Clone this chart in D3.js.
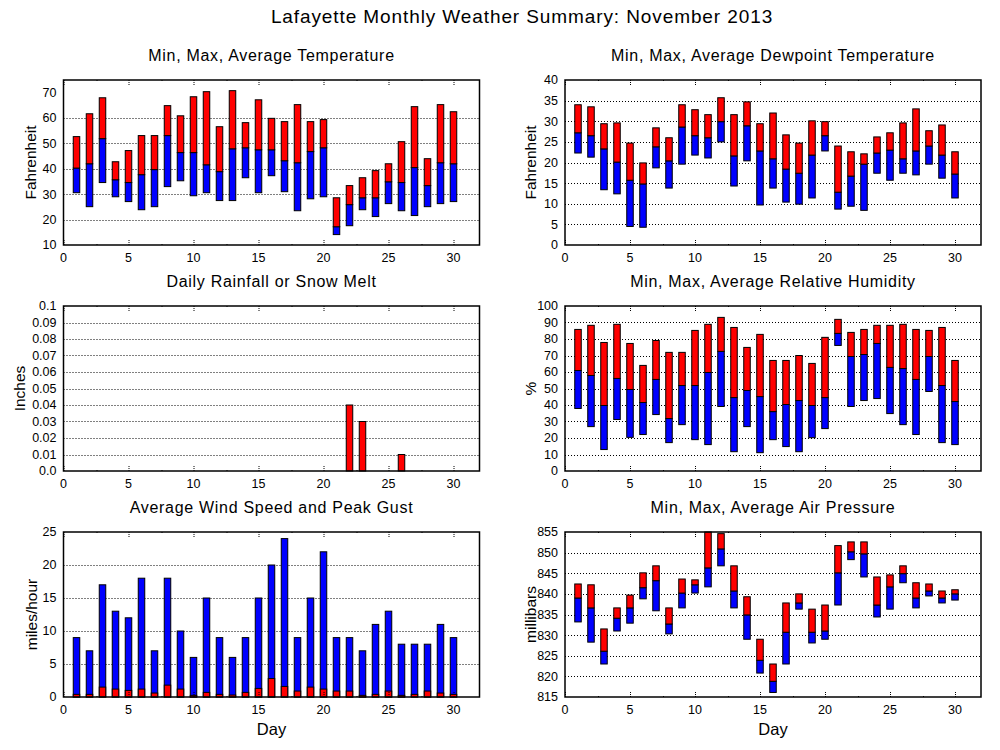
<!DOCTYPE html>
<html>
<head>
<meta charset="utf-8">
<script src="https://cdn.jsdelivr.net/npm/d3@7"></script>
<style>
  body { margin: 0; background: #fff; }
  text { font-family: "Liberation Sans", Arial, sans-serif; fill: #000; }
</style>
</head>
<body>
<script>
var days = [1,2,3,4,5,6,7,8,9,10,11,12,13,14,15,16,17,18,19,20,21,22,23,24,25,26,27,28,29,30];

var tempMax = [52.7,61.7,68.0,42.8,47.2,53.1,53.1,64.9,60.9,68.4,70.4,56.6,70.8,58.2,67.2,59.9,58.6,65.3,58.6,59.4,28.6,33.4,36.5,39.3,42.0,50.7,64.5,44.0,65.3,62.5];
var tempAvg = [40.3,42.0,51.9,35.7,34.6,37.7,39.7,53.1,46.4,46.4,41.6,38.9,47.9,48.3,47.5,47.5,43.2,42.4,46.8,48.3,17.2,25.9,28.6,28.6,34.9,34.6,40.5,33.4,42.4,42.0];
var tempMin = [30.6,25.1,34.6,29.0,27.1,23.9,25.1,33.0,35.3,29.4,30.6,27.5,27.5,36.5,30.6,37.3,31.0,23.5,28.2,29.0,14.1,17.6,23.9,21.2,26.3,23.5,21.6,25.1,26.3,27.1];

var dewMax = [34.0,33.5,29.4,29.6,24.7,19.9,28.4,26.0,34.0,32.8,31.6,35.7,31.6,34.7,29.4,32.0,26.7,24.7,30.1,29.9,24.0,22.6,22.1,26.2,27.2,29.6,33.0,27.7,29.1,22.6];
var dewAvg = [27.2,26.5,23.3,20.1,15.7,14.8,23.8,20.4,28.6,26.5,26.0,29.9,21.6,28.9,22.8,20.9,18.4,17.4,21.8,26.5,12.8,16.7,19.6,22.3,23.0,20.9,22.8,24.0,21.8,17.2];
var dewMin = [22.3,21.3,13.4,12.4,4.5,4.3,18.7,13.8,19.6,21.8,21.1,25.0,14.3,20.4,9.7,13.8,10.4,9.9,11.4,22.8,8.7,9.4,8.4,17.4,15.7,17.4,17.0,19.6,16.2,11.4];

var rain = [0,0,0,0,0,0,0,0,0,0,0,0,0,0,0,0,0,0,0,0,0,0.04,0.03,0,0,0.01,0,0,0,0];

var rhMax = [85.8,88.3,77.9,88.9,77.3,64.0,79.1,71.9,71.9,85.2,88.9,93.1,87.0,74.9,82.8,67.0,67.0,70.0,65.2,81.0,91.9,84.0,85.8,88.3,88.3,88.9,85.8,85.2,87.0,67.0];
var rhAvg = [60.9,57.9,39.7,56.1,49.4,41.5,55.5,31.8,51.8,51.8,59.7,72.5,44.5,48.8,45.1,36.0,40.3,42.7,39.7,44.5,83.4,69.4,70.6,77.3,62.8,62.1,55.5,69.4,51.8,42.1];
var rhMin = [37.9,26.9,13.0,31.2,20.4,22.1,34.2,17.2,28.1,19.0,16.0,39.1,11.7,26.9,11.1,19.0,14.8,11.7,20.2,25.7,76.1,39.1,42.7,43.9,34.8,28.1,22.1,48.2,17.2,16.0];

var windAvg = [0.4,0.4,1.5,1.2,1.0,1.2,0.6,1.8,1.2,0.25,0.7,0.4,0.3,0.7,1.3,2.8,1.6,0.9,1.5,1.2,0.9,0.9,0.25,0.4,0.9,0.25,0.4,0.9,0.6,0.4];
var windGust = [9,7,17,13,12,18,7,18,10,6,15,9,6,9,15,20,24,9,15,22,9,9,7,11,13,8,8,8,11,9];

var presMax = [842.4,842.2,831.5,836.6,839.7,845.1,846.8,836.6,843.6,843.4,855.0,854.6,846.8,839.3,829.0,823.0,837.8,840.0,836.3,837.3,851.7,852.6,852.6,844.1,844.6,846.8,842.7,842.4,840.7,841.0];
var presAvg = [839.0,836.6,826.1,834.1,836.6,841.5,843.2,832.7,840.2,842.2,846.3,850.9,840.7,834.9,823.9,818.8,830.7,837.8,830.7,831.0,845.1,850.2,849.7,837.3,841.7,844.9,839.0,840.7,839.0,840.0];
var presMin = [833.2,828.3,823.0,831.0,832.9,838.8,835.9,830.3,836.6,840.2,841.7,846.8,836.6,829.0,820.8,816.1,823.0,836.3,828.1,829.0,837.3,848.3,844.1,834.4,836.3,842.7,836.6,839.5,837.8,838.5];

var xTicks = [0,5,10,15,20,25,30];
var xMinorTicks = [2.5,7.5,12.5,17.5,22.5,27.5];

var svg = d3.select("body").append("svg")
    .attr("width", 1000)
    .attr("height", 750);

svg.append("text")
    .attr("x", 522)
    .attr("y", 23)
    .attr("text-anchor", "middle")
    .style("font-size", "19px")
    .style("letter-spacing", "0.9px")
    .text("Lafayette Monthly Weather Summary: November 2013");

var colX = [63.5, 565];
var rowY = [80, 306, 532];
var W = 416, H = 165;

function panel(col, row, title, ylabel, yDomain, yTicks, yFmt, labelX) {
    var g = svg.append("g")
        .attr("transform", "translate(" + colX[col] + "," + rowY[row] + ")");
    var x = d3.scaleLinear().domain([0, 32]).range([0, W]);
    var y = d3.scaleLinear().domain(yDomain).range([H, 0]);

    g.append("text")
        .attr("x", W / 2)
        .attr("y", -19)
        .attr("text-anchor", "middle")
        .style("font-size", "16px")
        .style("letter-spacing", "0.7px")
        .text(title);

    // dotted grid
    g.append("g").selectAll("line")
        .data(yTicks.slice(1, -1).filter(function (d) { return y(d) > 0.5 && y(d) < H - 0.5; }))
        .enter()
            .append("line")
            .attr("x1", 0).attr("x2", W)
            .attr("y1", function (d) { return Math.round(y(d)) + 0.5; })
            .attr("y2", function (d) { return Math.round(y(d)) + 0.5; })
            .attr("stroke", "#000")
            .attr("stroke-width", 1)
            .style("stroke-dasharray", "1,2");

    // y tick labels
    g.append("g").selectAll("text")
        .data(yTicks)
        .enter()
            .append("text")
            .attr("x", -7)
            .attr("y", function (d) { return y(d); })
            .attr("dy", "0.35em")
            .attr("text-anchor", "end")
            .style("font-size", "12.5px")
            .text(yFmt);

    // x tick labels
    g.append("g").selectAll("text")
        .data(xTicks)
        .enter()
            .append("text")
            .attr("x", function (d) { return x(d); })
            .attr("y", H + 17)
            .attr("text-anchor", "middle")
            .style("font-size", "12.5px")
            .text(function (d) { return d; });

    g.append("text")
        .attr("transform", "translate(" + (labelX - colX[col]) + "," + (H / 2) + ") rotate(-90)")
        .attr("text-anchor", "middle")
        .attr("dy", "0.35em")
        .style("font-size", "15.5px")
        .text(ylabel);

    if (row === 2) {
        g.append("text")
            .attr("x", W / 2)
            .attr("y", H + 38)
            .attr("text-anchor", "middle")
            .style("font-size", "16.5px")
            .text("Day");
    }

    var bars = g.append("g");

    var frame = function () {
        var t = g.append("g");
        var tk = [];
        xTicks.forEach(function (d) { tk.push({v: d, len: 6}); });
        xMinorTicks.forEach(function (d) { tk.push({v: d, len: 2}); });
        t.selectAll("line.b")
            .data(tk)
            .enter()
                .append("line")
                .attr("x1", function (d) { return Math.round(x(d.v)) + 0.5; })
                .attr("x2", function (d) { return Math.round(x(d.v)) + 0.5; })
                .attr("y1", H)
                .attr("y2", function (d) { return H - d.len; })
                .attr("stroke", "#000")
                .style("stroke-dasharray", "1,1");
        t.selectAll("line.t")
            .data(tk)
            .enter()
                .append("line")
                .attr("x1", function (d) { return Math.round(x(d.v)) + 0.5; })
                .attr("x2", function (d) { return Math.round(x(d.v)) + 0.5; })
                .attr("y1", 0)
                .attr("y2", function (d) { return d.len; })
                .attr("stroke", "#000")
                .style("stroke-dasharray", "1,1");
        t.append("rect")
            .attr("x", 0).attr("y", 0)
            .attr("width", W).attr("height", H)
            .attr("fill", "none")
            .attr("stroke", "#000")
            .attr("stroke-width", 1.5);
    };

    return {g: bars, x: x, y: y, frame: frame};
}

function rangeBars(p, mins, avgs, maxs) {
    var bw = p.x(0.5) - p.x(0);
    p.g.selectAll("rect.lo")
        .data(days)
        .enter()
            .append("rect")
            .attr("x", function (d) { return p.x(d) - bw / 2; })
            .attr("y", function (d, i) { return p.y(avgs[i]); })
            .attr("width", bw)
            .attr("height", function (d, i) { return p.y(mins[i]) - p.y(avgs[i]); })
            .attr("fill", "#0000ff")
            .attr("stroke", "#000")
            .attr("stroke-width", 1);
    p.g.selectAll("rect.hi")
        .data(days)
        .enter()
            .append("rect")
            .attr("x", function (d) { return p.x(d) - bw / 2; })
            .attr("y", function (d, i) { return p.y(maxs[i]); })
            .attr("width", bw)
            .attr("height", function (d, i) { return p.y(avgs[i]) - p.y(maxs[i]); })
            .attr("fill", "#ff0000")
            .attr("stroke", "#000")
            .attr("stroke-width", 1);
}

function simpleBars(p, vals, color) {
    var bw = p.x(0.5) - p.x(0);
    p.g.append("g").selectAll("rect")
        .data(days)
        .enter()
            .append("rect")
            .attr("x", function (d) { return p.x(d) - bw / 2; })
            .attr("y", function (d, i) { return p.y(vals[i]); })
            .attr("width", bw)
            .attr("height", function (d, i) { return p.y(p.y.domain()[0]) - p.y(vals[i]); })
            .attr("fill", color)
            .attr("stroke", function (d, i) { return vals[i] > 0 ? "#000" : "none"; })
            .attr("stroke-width", 1);
}

var fmtInt = function (d) { return d; };

var p1 = panel(0, 0, "Min, Max, Average Temperature", "Fahrenheit", [10, 75], [10,20,30,40,50,60,70], fmtInt, 31);
rangeBars(p1, tempMin, tempAvg, tempMax);
p1.frame();

var p2 = panel(1, 0, "Min, Max, Average Dewpoint Temperature", "Fahrenheit", [0, 40], [0,5,10,15,20,25,30,35,40], fmtInt, 531);
rangeBars(p2, dewMin, dewAvg, dewMax);
p2.frame();

var p3 = panel(0, 1, "Daily Rainfall or Snow Melt", "Inches", [0, 0.1], [0,0.01,0.02,0.03,0.04,0.05,0.06,0.07,0.08,0.09,0.1],
    function (d) { return d === 0 ? "0.0" : String(d); }, 20);
simpleBars(p3, rain, "#ff0000");
p3.frame();

var p4 = panel(1, 1, "Min, Max, Average Relative Humidity", "%", [0, 100], [0,10,20,30,40,50,60,70,80,90,100], fmtInt, 531);
rangeBars(p4, rhMin, rhAvg, rhMax);
p4.frame();

var p5 = panel(0, 2, "Average Wind Speed and Peak Gust", "miles/hour", [0, 25], [0,5,10,15,20,25], fmtInt, 32);
simpleBars(p5, windGust, "#0000ff");
simpleBars(p5, windAvg, "#ff0000");
p5.frame();

var p6 = panel(1, 2, "Min, Max, Average Air Pressure", "millibars", [815, 855], [815,820,825,830,835,840,845,850,855], fmtInt, 531);
rangeBars(p6, presMin, presAvg, presMax);
p6.frame();
</script>
</body>
</html>
